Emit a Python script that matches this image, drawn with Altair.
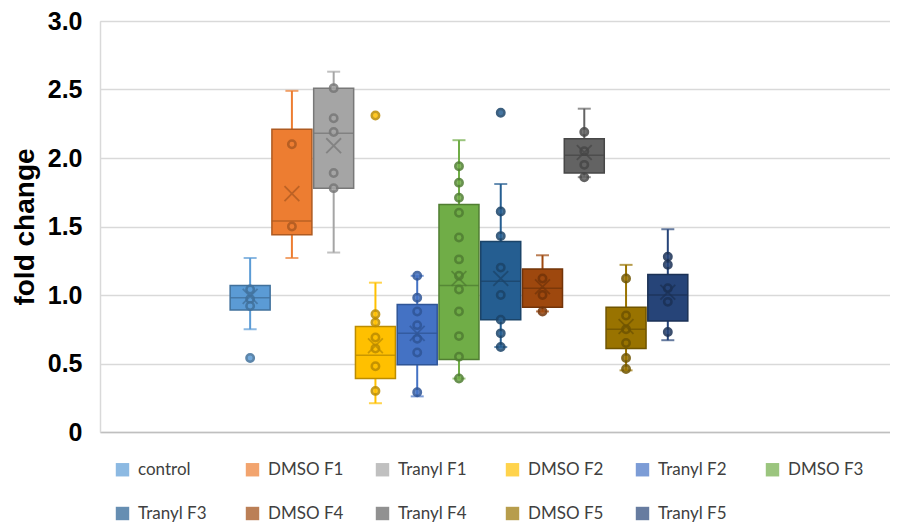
import altair as alt
import pandas as pd

groups = ["control", "DMSO F1", "Tranyl F1", "DMSO F2", "Tranyl F2", "DMSO F3",
          "Tranyl F3", "DMSO F4", "Tranyl F4", "DMSO F5", "Tranyl F5"]
colors = ["#5B9BD5", "#ED7D31", "#A5A5A5", "#FFC000", "#4472C4", "#70AD47",
          "#255E91", "#9E480E", "#636363", "#997300", "#264478"]
dark_colors = ["#41719C", "#AE5A21", "#787878", "#BC8C00", "#2F5597", "#507E32",
               "#1B4469", "#733409", "#474747", "#6F5400", "#1B3155"]

whisk_lo = [0.75, 1.27, 1.31, 0.21, 0.26, 0.39, 0.62, 0.88, 1.86, 0.45, 0.67]
q1 =       [0.89, 1.44, 1.78, 0.39, 0.49, 0.53, 0.82, 0.91, 1.89, 0.61, 0.81]
median =   [0.98, 1.54, 2.18, 0.56, 0.72, 1.07, 1.10, 1.05, 2.02, 0.75, 1.00]
q3 =       [1.07, 2.21, 2.51, 0.77, 0.93, 1.66, 1.39, 1.19, 2.14, 0.91, 1.15]
whisk_hi = [1.27, 2.49, 2.63, 1.09, 1.14, 2.13, 1.81, 1.29, 2.36, 1.22, 1.48]
mean =     [0.99, 1.74, 2.09, 0.63, 0.72, 1.12, 1.12, 1.06, 2.04, 0.77, 1.02]

points = [
    [0.54, 1.04, 0.97, 0.92],
    [2.10, 1.50],
    [2.51, 2.29, 2.19, 1.89, 1.78],
    [2.31, 0.86, 0.80, 0.69, 0.61, 0.48, 0.30],
    [1.14, 0.98, 0.88, 0.78, 0.68, 0.58, 0.29],
    [1.94, 1.82, 1.71, 1.60, 1.42, 1.26, 1.14, 1.04, 0.88, 0.70, 0.55, 0.39],
    [2.33, 1.61, 1.43, 1.20, 1.00, 0.82, 0.72, 0.62],
    [1.12, 1.00, 0.88],
    [2.19, 2.05, 1.95, 1.86],
    [1.12, 0.85, 0.75, 0.65, 0.54, 0.46],
    [1.28, 1.22, 1.05, 0.95, 0.73],
]

y_ticks = [0, 0.5, 1.0, 1.5, 2.0, 2.5, 3.0]

box_df = pd.DataFrame({
    "group": groups, "idx": list(range(len(groups))), "col": colors, "dark": dark_colors,
    "lo": whisk_lo, "q1": q1, "med": median, "q3": q3, "hi": whisk_hi, "mean": mean,
})
pt_rows = []
for i, (g, vals) in enumerate(zip(groups, points)):
    for v in vals:
        pt_rows.append({"group": g, "idx": i, "v": v, "col": colors[i], "dark": dark_colors[i]})
pt_df = pd.DataFrame(pt_rows)

xscale = alt.Scale(domain=[-3.475, 15.2], nice=False, zero=False)
yscale = alt.Scale(domain=[0, 3], nice=False)
cscale = alt.Scale(domain=groups, range=colors)

x_enc = alt.X("idx:Q", scale=xscale,
              axis=alt.Axis(labels=False, ticks=False, grid=False, title=None,
                            domainColor="#BFBFBF", domainWidth=1.5))
y_axis = alt.Axis(values=y_ticks, title="fold change", grid=True, gridColor="#D9D9D9",
                  gridWidth=1.5, ticks=False, domainColor="#D9D9D9", domainWidth=1.5,
                  labelFont="Liberation Sans", labelFontWeight="bold", labelFontSize=25,
                  labelColor="#000000", labelPadding=18,
                  labelExpr="datum.value == 0 ? '0' : format(datum.value, '.1f')",
                  titleFont="Liberation Sans", titleFontWeight="bold", titleFontSize=28,
                  titleColor="#000000", titlePadding=8)

legend = alt.Legend(title=None, orient="none", legendX=14, legendY=440, direction="horizontal",
                    columns=6, gridAlign="all", symbolType="square", symbolSize=180,
                    symbolStrokeWidth=0, symbolOpacity=1, labelFont="Lato", labelFontSize=17,
                    labelColor="#404040", labelOffset=7, columnPadding=30, rowPadding=26)

color_enc = alt.Color("group:N", scale=cscale, legend=legend)
light_enc = alt.Color("col:N", scale=None)
dark_enc = alt.Color("dark:N", scale=None)

base = alt.Chart(box_df)

whisker = base.mark_rule(strokeWidth=2).encode(
    x=x_enc, y=alt.Y("lo:Q", scale=yscale, axis=y_axis), y2="hi:Q", color=light_enc)
cap_hi = base.mark_tick(size=13, thickness=2, orient="horizontal").encode(
    x=x_enc, y=alt.Y("hi:Q", scale=yscale), color=light_enc)
cap_lo = base.mark_tick(size=13, thickness=2, orient="horizontal").encode(
    x=x_enc, y=alt.Y("lo:Q", scale=yscale), color=light_enc)
box = base.mark_bar(size=40, orient="vertical", strokeWidth=1.5, opacity=1).encode(
    x=x_enc, y=alt.Y("q1:Q", scale=yscale), y2="q3:Q",
    color=color_enc, stroke=alt.Stroke("dark:N", scale=None))
med_line = base.mark_tick(size=40, thickness=1.5, orient="horizontal", opacity=0.8).encode(
    x=x_enc, y=alt.Y("med:Q", scale=yscale), color=dark_enc)
pts = alt.Chart(pt_df).mark_point(shape="circle", size=55, strokeWidth=2.5,
                                  opacity=0.85).encode(
    x=x_enc, y=alt.Y("v:Q", scale=yscale),
    fill=alt.Fill("col:N", scale=None), stroke=alt.Stroke("dark:N", scale=None))
mean_x = base.mark_point(shape="M-1,-1L1,1M1,-1L-1,1", size=220, filled=False,
                         strokeWidth=1.8, opacity=0.75).encode(
    x=x_enc, y=alt.Y("mean:Q", scale=yscale), color=dark_enc)

chart = alt.layer(whisker, cap_hi, cap_lo, box, med_line, pts, mean_x).properties(
    width=790, height=411,
    autosize=alt.AutoSizeParams(type="none"),
    padding={"left": 92, "top": 13, "right": 0, "bottom": 100},
).configure_view(stroke=None).configure(background="white")

chart.save("out.html", embed_options={"renderer": "svg", "actions": False})
